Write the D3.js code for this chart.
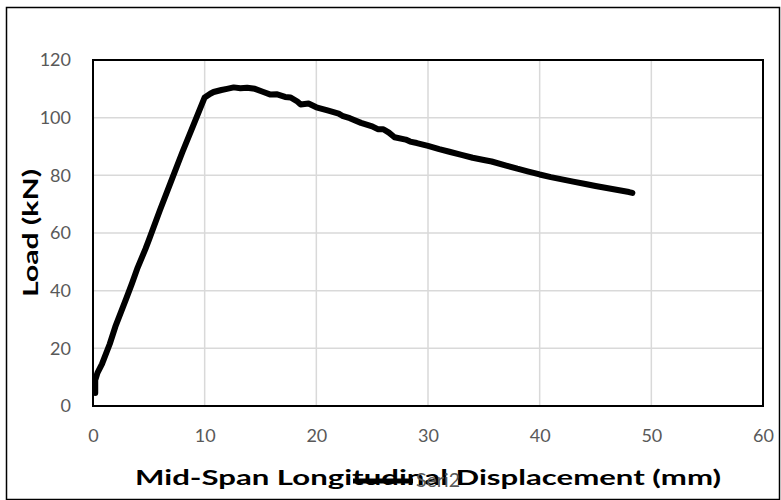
<!DOCTYPE html>
<html>
<head>
<meta charset="utf-8">
<script src="https://cdn.jsdelivr.net/npm/d3@7"></script>
<style>
  html, body { margin: 0; padding: 0; background: #fff; }
  svg { display: block; font-family: Lato, "Open Sans", sans-serif; }
</style>
</head>
<body>
<svg id="chart" width="781" height="500"></svg>
<script>
// Load–displacement response of the beam (mid-span longitudinal displacement)
const displacement = [0.2, 0.2, 0.4, 0.8, 1.0, 1.5, 2, 3, 3.5, 4, 4.7, 5, 6, 7, 8, 9, 10,
  10.5, 10.8, 11.5, 12, 12.6, 13.2, 13.8, 14.5, 15.2, 15.9, 16.5, 17.2, 17.7, 18.3, 18.6,
  19.3, 20, 21, 22, 22.4, 23, 24, 25, 25.5, 26, 26.5, 27, 28, 28.4, 29, 30, 31, 32, 33,
  34, 35, 35.7, 37, 38, 39, 40, 41, 42, 43, 44.1, 45, 46, 47, 48, 48.3];
const load = [4.5, 9, 11.5, 14.5, 16.5, 21.5, 27.5, 37.5, 42.6, 48, 54.5, 57.5, 68, 78, 88, 97.5, 107,
  108.3, 108.9, 109.6, 110, 110.5, 110.2, 110.4, 110, 109, 108, 108.1, 107.2, 107, 105.6, 104.6,
  104.9, 103.6, 102.5, 101.4, 100.5, 99.8, 98.2, 97, 96, 96, 94.8, 93.2, 92.4, 91.7, 91.2, 90.2, 89.1, 88.1, 87.1,
  86.1, 85.3, 84.8, 83.4, 82.3, 81.3, 80.3, 79.4, 78.6, 77.8, 77, 76.3, 75.6, 74.9, 74.2, 73.9];
const xTicks = [0, 10, 20, 30, 40, 50, 60];
const yTicks = [0, 20, 40, 60, 80, 100, 120];
const seriesName = "Seri2";
const xTitle = "Mid-Span Longitudinal Displacement (mm)";
const yTitle = "Load (kN)";

const svg = d3.select("#chart");
const plot = { left: 93, right: 763, top: 60, bottom: 406 };

const x = d3.scaleLinear().domain([0, 60]).range([plot.left, plot.right]);
const y = d3.scaleLinear().domain([0, 120]).range([plot.bottom, plot.top]);

// chart area frame
svg.append("rect")
  .attr("x", 6.5).attr("y", 7.5)
  .attr("width", 773).attr("height", 492)
  .attr("fill", "#fff").attr("stroke", "#000").attr("stroke-width", 1.5);

// gridlines
const grid = svg.append("g");
grid.selectAll("line.v").data(xTicks.slice(1, -1)).join("line")
  .attr("x1", d => x(d)).attr("x2", d => x(d))
  .attr("y1", plot.top).attr("y2", plot.bottom)
  .attr("stroke", "#d9d9d9").attr("stroke-width", 1.5);
grid.selectAll("line.h").data(yTicks.slice(1, -1)).join("line")
  .attr("x1", plot.left).attr("x2", plot.right)
  .attr("y1", d => y(d)).attr("y2", d => y(d))
  .attr("stroke", "#d9d9d9").attr("stroke-width", 1.5);

// plot area border
svg.append("rect")
  .attr("x", plot.left).attr("y", plot.top)
  .attr("width", plot.right - plot.left).attr("height", plot.bottom - plot.top)
  .attr("fill", "none").attr("stroke", "#000").attr("stroke-width", 2);

// axes (labels only; the frame acts as axis lines)
const xAxis = svg.append("g")
  .attr("transform", `translate(0,${plot.bottom})`)
  .call(d3.axisBottom(x).tickValues(xTicks).tickSize(0).tickPadding(23));
const yAxis = svg.append("g")
  .attr("transform", `translate(${plot.left},0)`)
  .call(d3.axisLeft(y).tickValues(yTicks).tickSize(0).tickPadding(22));
[xAxis, yAxis].forEach(g => {
  g.select(".domain").remove();
  g.selectAll("text")
    .attr("fill", "#595959")
    .style("font-size", "18px")
    .style("font-family", "Lato, 'Open Sans', sans-serif");
});

// load-displacement curve
const line = d3.line().x(d => x(d[0])).y(d => y(d[1]));
svg.append("path")
  .datum(d3.zip(displacement, load))
  .attr("d", line)
  .attr("fill", "none")
  .attr("stroke", "#000")
  .attr("stroke-width", 6)
  .attr("stroke-linejoin", "round")
  .attr("stroke-linecap", "round");

// axis titles
svg.append("text")
  .attr("x", (plot.left + plot.right) / 2).attr("y", 485)
  .attr("text-anchor", "middle")
  .attr("textLength", 586).attr("lengthAdjust", "spacingAndGlyphs")
  .style("font-size", "21px").style("font-weight", "bold")
  .attr("fill", "#000")
  .text(xTitle);

svg.append("text")
  .attr("transform", `translate(38,${(plot.top + plot.bottom) / 2}) rotate(-90)`)
  .attr("text-anchor", "middle")
  .attr("textLength", 128).attr("lengthAdjust", "spacingAndGlyphs")
  .style("font-size", "21px").style("font-weight", "bold")
  .attr("fill", "#000")
  .text(yTitle);

// legend
const legend = svg.append("g");
legend.append("line")
  .attr("x1", 353).attr("x2", 413)
  .attr("y1", 481).attr("y2", 481)
  .attr("stroke", "#000").attr("stroke-width", 5);
legend.append("text")
  .attr("x", 416).attr("y", 487)
  .attr("fill", "#595959")
  .attr("textLength", 44).attr("lengthAdjust", "spacingAndGlyphs")
  .style("font-size", "19px")
  .text(seriesName);
</script>
</body>
</html>
